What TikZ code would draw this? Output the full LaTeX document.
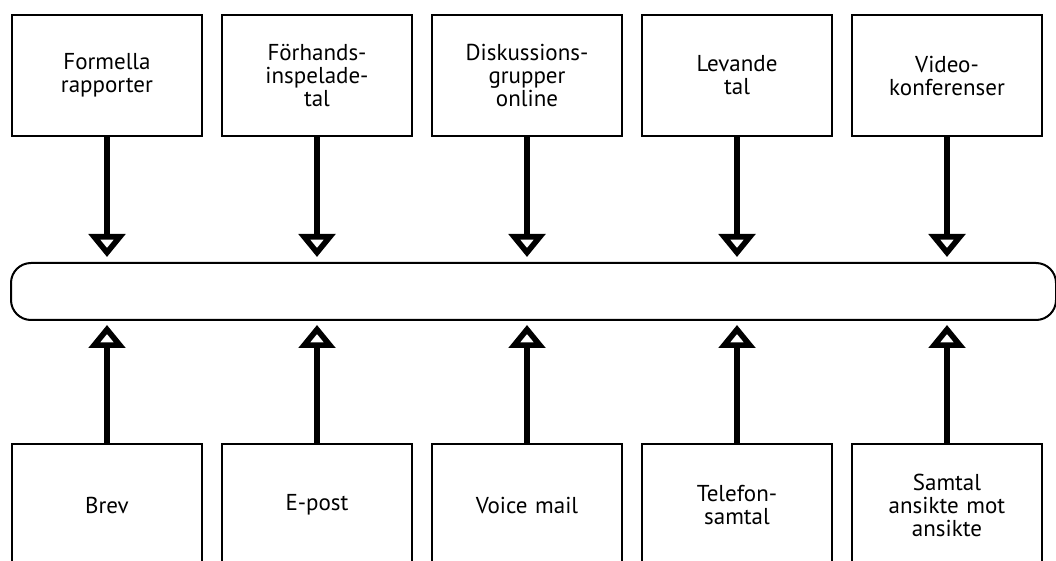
\documentclass[tikz,border=0pt]{standalone}
\usepackage{fontspec}
\setmainfont{PT Sans}
\usetikzlibrary{arrows.meta}
\tikzstyle{medium} = [rectangle, minimum width=95pt, minimum height=60.5pt, text width=90pt, inner sep=2pt, align=center, draw=black, line width=1pt, font=\fontsize{11.5}{11.5}\selectfont]
\tikzstyle{hub} = [rectangle, rounded corners=10pt, minimum width=522.5pt, minimum height=28.5pt, draw=black, line width=1pt]
\tikzstyle{arrow} = [line width=3.3pt, -{Triangle[open, length=11.5pt, width=18pt, line width=2.8pt]}]
\begin{document}
\begin{tikzpicture}[x=0.5pt, y=-0.5pt]
\useasboundingbox (0,0) rectangle (1056,561);
\clip (0,0) rectangle (1056,561);

% objects
\node (formella) at (107,75.5) [medium] {Formella\\rapporter};
\node (forhands) at (317,75.5) [medium] {Förhands-\\inspelade-\\tal};
\node (diskussion) at (527,75.5) [medium] {Diskussions-\\grupper\\online};
\node (levande) at (737,75.5) [medium] {Levande\\tal};
\node (video) at (947,75.5) [medium] {Video-\\konferenser};

\node (hub) at (533.5,291.5) [hub] {};

\node (brev) at (107,505) [medium] {Brev};
\node (epost) at (317,505) [medium] {E-post};
\node (voicemail) at (527,505) [medium] {Voice mail};
\node (telefon) at (737,505) [medium] {Telefon-\\samtal};
\node (samtal) at (947,505) [medium] {Samtal\\ansikte mot\\ansikte};

% arrows
\draw [arrow, shorten >=2.5pt] (formella) -- (formella |- hub.north);
\draw [arrow, shorten >=2.5pt] (forhands) -- (forhands |- hub.north);
\draw [arrow, shorten >=2.5pt] (diskussion) -- (diskussion |- hub.north);
\draw [arrow, shorten >=2.5pt] (levande) -- (levande |- hub.north);
\draw [arrow, shorten >=2.5pt] (video) -- (video |- hub.north);

\draw [arrow, shorten >=2pt] (brev) -- (brev |- hub.south);
\draw [arrow, shorten >=2pt] (epost) -- (epost |- hub.south);
\draw [arrow, shorten >=2pt] (voicemail) -- (voicemail |- hub.south);
\draw [arrow, shorten >=2pt] (telefon) -- (telefon |- hub.south);
\draw [arrow, shorten >=2pt] (samtal) -- (samtal |- hub.south);

\end{tikzpicture}
\end{document}
